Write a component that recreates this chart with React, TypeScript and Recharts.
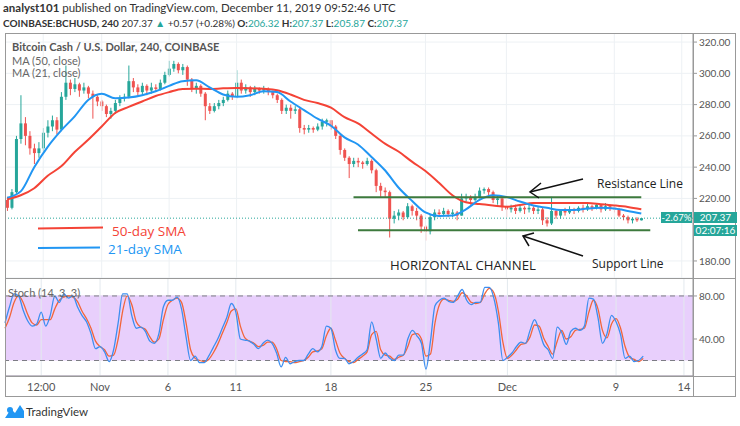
import React from 'react';
import {
  ComposedChart, Bar, Line, XAxis, YAxis, CartesianGrid,
  ReferenceLine, ReferenceArea,
} from 'recharts';

// 8h candles starting Oct 25 00:00 (open of first candle = FIRST_OPEN, then previous close)
const FIRST_OPEN = 219;
const CLOSES = [
  214, 224, 258, 268, 260, 252, 249, 252, 262, 266,
  270, 264, 285, 294, 290, 293, 289, 291, 287, 285,
  282, 279, 274, 276, 281, 284, 285, 295, 291, 288,
  292, 289, 291, 290, 294, 299, 303, 306, 302, 304,
  296, 290, 292, 287, 279, 276, 279, 281, 283, 287,
  285, 294, 289, 291, 288, 290, 289, 290, 288, 286,
  283, 276, 278, 276, 277, 265, 264, 265, 264, 266,
  269, 270, 266, 260, 251, 246, 242, 244, 243, 242,
  244, 238, 228, 225, 224, 207, 209, 211, 208, 215,
  212, 209, 202, 199, 208, 211, 210, 212, 210, 211,
  209, 220, 221, 219, 221, 225, 226, 224, 219, 220,
  215, 213, 214, 212, 214, 213, 214, 212, 213, 206,
  204, 212, 209, 212, 211, 213, 212, 214, 213, 215,
  214, 216, 213, 215, 214, 213, 209, 208, 206, 207,
  206, 207.37,
];
const HIGHS = [
  221, 226, 260, 286, 272, 263, 255, 256, 265, 270,
  273, 272, 288, 305, 296, 297, 294, 294, 292, 289,
  286, 283, 280, 278, 283, 286, 287, 305, 297, 293,
  294, 293, 294, 293, 296, 301, 308, 308, 307, 306,
  305, 297, 294, 293, 288, 281, 281, 283, 285, 289,
  288, 302, 296, 293, 292, 292, 291, 292, 291, 289,
  287, 284, 280, 280, 279, 278, 267, 267, 266, 268,
  271, 271, 270, 267, 261, 252, 247, 246, 246, 244,
  246, 245, 239, 230, 227, 225, 212, 213, 212, 217,
  216, 214, 210, 203, 210, 213, 213, 214, 213, 213,
  212, 223, 223, 222, 223, 227, 227, 227, 225, 222,
  221, 216, 216, 216, 216, 215, 216, 215, 215, 214,
  208, 221, 213, 213, 214, 215, 214, 215, 216, 217,
  216, 217, 216, 217, 216, 215, 214, 210, 209, 208,
  208, 207.4,
];
const LOWS = [
  212, 213, 223, 255, 254, 248, 242, 246, 250, 259,
  263, 261, 263, 283, 286, 288, 285, 287, 284, 271,
  279, 276, 272, 271, 274, 279, 282, 284, 288, 286,
  286, 286, 287, 288, 289, 293, 298, 301, 300, 299,
  292, 288, 287, 285, 270, 274, 275, 277, 279, 282,
  283, 284, 287, 287, 285, 286, 287, 287, 286, 284,
  281, 274, 274, 271, 274, 262, 261, 262, 262, 263,
  264, 266, 264, 258, 248, 244, 233, 240, 240, 239,
  241, 236, 224, 221, 221, 195, 204, 206, 206, 207,
  209, 206, 198, 193, 197, 206, 208, 209, 208, 208,
  206, 209, 218, 216, 218, 220, 223, 222, 217, 216,
  212, 208, 211, 210, 211, 210, 211, 210, 210, 203,
  202, 203, 207, 207, 209, 210, 210, 211, 211, 212,
  212, 213, 211, 212, 212, 211, 208, 206, 204, 204,
  205, 205.9,
];
// moving averages read once per day (every 3rd candle)
const MA50 = [
  219.5, 222, 226.5, 234.5, 240.5, 249.7, 257.5, 266, 274.6, 278.5,
  282, 285.5, 288, 290, 290.2, 290, 290.4, 290.6, 290.5, 290.1,
  289.2, 286.5, 283, 281, 278, 272, 268, 261.5, 255, 250,
  243.5, 237.5, 230, 222, 217.5, 216.4, 215.5, 214.7, 215.8, 217,
  217, 217, 217, 217, 216.3, 215.5, 214.5, 213,
];
const MA21 = [
  220.5, 224.5, 240, 253, 263.5, 272.5, 283, 287, 284, 284.5,
  286, 288.5, 292, 295, 295.5, 291, 286.5, 285, 286, 288.5,
  288, 282, 276.5, 271, 266.5, 259, 254.5, 246.5, 238, 227,
  218.5, 211, 208.7, 209, 213, 219, 222, 221, 218, 215.5,
  214, 212.6, 212.6, 213.5, 214, 213.5, 212, 210.3,
];
const STOCH_K = [
  55, 70, 82, 80, 67, 57, 52, 54, 65, 52,
  62, 80, 74, 82, 78, 80, 70, 62, 56, 45,
  31, 33, 28, 19, 30, 55, 82, 82, 62, 50,
  51, 47, 38, 36, 45, 70, 76, 76, 79, 68,
  42, 20, 24, 18, 18, 24, 32, 40, 50, 60,
  73, 65, 40, 39, 38, 35, 31, 36, 39, 36,
  27, 14, 23, 17, 19, 20, 20, 26, 31, 28,
  33, 52, 50, 30, 22, 22, 17, 19, 23, 26,
  30, 56, 40, 22, 27, 22, 20, 25, 25, 40,
  48, 43, 36, 12, 38, 71, 76, 78, 75, 74,
  80, 86, 76, 72, 74, 74, 88, 88, 78, 55,
  20, 23, 27, 33, 37, 36, 48, 58, 48, 35,
  30, 22, 51, 46, 35, 47, 50, 48, 52, 78,
  77, 60, 36, 45, 62, 56, 44, 22, 24, 19,
  20, 24,
];
const STOCH_D = [
  50, 60, 74, 80, 74, 63, 55, 53, 58, 58,
  58, 68, 76, 79, 80, 79, 75, 66, 59, 50,
  38, 33, 30, 24, 25, 40, 66, 80, 72, 56,
  51, 49, 42, 37, 40, 58, 72, 76, 78, 74,
  55, 30, 22, 20, 19, 21, 27, 35, 45, 55,
  66, 68, 52, 41, 38, 36, 33, 34, 37, 37,
  31, 20, 19, 19, 18, 19, 20, 23, 28, 29,
  31, 43, 50, 39, 27, 22, 19, 18, 21, 24,
  28, 44, 47, 30, 25, 24, 21, 23, 25, 33,
  44, 45, 40, 24, 26, 55, 72, 77, 76, 75,
  77, 83, 80, 74, 73, 74, 82, 87, 83, 66,
  37, 22, 25, 30, 35, 36, 42, 53, 52, 41,
  33, 26, 38, 48, 40, 42, 48, 49, 50, 65,
  76, 68, 48, 41, 54, 59, 50, 33, 23, 21,
  19, 22,
];
const TOTAL_SLOTS = 153; // data + empty space on the right
const TIME_TICKS = [8, 21, 36, 51, 72, 93, 111, 135, 150];
const TIME_LABELS = ['12:00', 'Nov', '6', '11', '18', '25', 'Dec', '9', '14'];
// 200.00 sits under the countdown label in the original, so it is left out
const PRICE_TICKS = [180, 220, 240, 260, 280, 300, 320];
const LAST_PRICE = 207.37;
const RESISTANCE = 220.8;
const SUPPORT = 199.6;

const UP = '#26a69a';
const DOWN = '#ef5350';
const TEAL = '#26a69a';
const FONT = 'Lato, "Open Sans", sans-serif';

const rows = Array.from({ length: TOTAL_SLOTS }, (_, i) => {
  const has = i < CLOSES.length;
  return {
    t: i,
    open: has ? (i === 0 ? FIRST_OPEN : CLOSES[i - 1]) : null,
    close: has ? CLOSES[i] : null,
    high: has ? HIGHS[i] : null,
    low: has ? LOWS[i] : null,
    ma50: has && i % 3 === 0 ? MA50[i / 3] : null,
    ma21: has && i % 3 === 0 ? MA21[i / 3] : null,
    k: has ? STOCH_K[i] : null,
    d: has ? STOCH_D[i] : null,
  };
});

const Candle = (props: any) => {
  const { x, y, width, height, payload } = props;
  if (!payload || payload.close == null) return null;
  const { open, close, high, low } = payload;
  const top = Math.min(y, y + height);
  const h = Math.abs(height);
  const k = high === low ? 0 : h / (high - low);
  const cx = x + width / 2;
  const bTop = top + (high - Math.max(open, close)) * k;
  const bH = Math.max(1, Math.abs(open - close) * k);
  const color = close >= open ? UP : DOWN;
  return (
    <g>
      <line x1={cx} x2={cx} y1={top} y2={top + h} stroke={color} strokeWidth={1} />
      <rect x={cx - 1.5} y={bTop} width={3} height={bH} fill={color} />
    </g>
  );
};

const gridLines = (stroke: string) =>
  TIME_TICKS.map((t) => (
    <ReferenceLine key={`vg-${t}`} x={t} stroke={stroke} strokeWidth={1} />
  ));

const axisTick = { fontSize: 10, fill: '#555', fontFamily: FONT };

const App: React.FC = () => {
  return (
    <div style={{ position: 'absolute', left: 0, top: 0, width: 740, height: 426, background: '#fff', overflow: 'hidden' }}>
      {/* price pane */}
      <div style={{ position: 'absolute', left: 0, top: 33 }}>
        <ComposedChart width={740} height={245} data={rows} margin={{ top: 0, right: 0, bottom: 0, left: 5 }}>
          <CartesianGrid vertical={false} stroke="#edf1f4" />
          {gridLines('#edf1f4')}
          <XAxis dataKey="t" type="category" hide />
          <YAxis
            orientation="right"
            width={47}
            domain={[169.1, 325.8]}
            ticks={PRICE_TICKS}
            allowDataOverflow
            tickFormatter={(v: number) => v.toFixed(2)}
            tick={axisTick}
            tickSize={4}
            tickMargin={2}
            axisLine={{ stroke: '#999' }}
            tickLine={{ stroke: '#999' }}
          />
          <ReferenceLine y={LAST_PRICE} stroke={TEAL} strokeDasharray="1 2" />
          <Bar
            dataKey={(d: any) => (d.close == null ? null : [d.low, d.high])}
            shape={<Candle />}
            isAnimationActive={false}
          />
          <Line dataKey="ma50" type="monotone" stroke="#f44336" strokeWidth={2} dot={false} connectNulls isAnimationActive={false} />
          <Line dataKey="ma21" type="monotone" stroke="#2196f3" strokeWidth={2} dot={false} connectNulls isAnimationActive={false} />
          <ReferenceLine segment={[{ x: 77, y: RESISTANCE }, { x: 141, y: RESISTANCE }]} stroke="#3d7a3d" strokeWidth={2} />
          <ReferenceLine segment={[{ x: 78, y: SUPPORT }, { x: 143, y: SUPPORT }]} stroke="#3d7a3d" strokeWidth={2} />
        </ComposedChart>
      </div>

      {/* stochastic pane */}
      <div style={{ position: 'absolute', left: 0, top: 278 }}>
        <ComposedChart width={740} height={119} data={rows} margin={{ top: 0, right: 0, bottom: 0, left: 5 }}>
          <ReferenceArea y1={20} y2={80} fill="#e8cffc" fillOpacity={1} stroke="none" />
          <CartesianGrid vertical={false} stroke="#dcc6f0" />
          {gridLines('#e3e9ee')}
          <XAxis
            dataKey="t"
            type="category"
            height={21}
            ticks={TIME_TICKS}
            interval={0}
            tickFormatter={(v: number) => TIME_LABELS[TIME_TICKS.indexOf(v)] ?? ''}
            tick={{ fontSize: 11, fill: '#555', fontFamily: FONT }}
            tickLine={false}
            tickSize={4}
            tickMargin={3}
            axisLine={{ stroke: '#999' }}
          />
          <YAxis
            orientation="right"
            width={47}
            domain={[5.6, 96.7]}
            ticks={[40, 80]}
            allowDataOverflow
            tickFormatter={(v: number) => v.toFixed(2)}
            tick={axisTick}
            tickSize={4}
            tickMargin={2}
            axisLine={{ stroke: '#999' }}
            tickLine={{ stroke: '#999' }}
          />
          <ReferenceLine y={80} stroke="#7d7d85" strokeDasharray="5 4" />
          <ReferenceLine y={20} stroke="#7d7d85" strokeDasharray="5 4" />
          <Line dataKey="d" type="monotone" stroke="#f2653a" strokeWidth={1.3} dot={false} isAnimationActive={false} />
          <Line dataKey="k" type="monotone" stroke="#3d8ef0" strokeWidth={1.3} dot={false} isAnimationActive={false} />
        </ComposedChart>
      </div>

      {/* frame, texts and annotations */}
      <svg width={740} height={426} style={{ position: 'absolute', left: 0, top: 0, pointerEvents: 'none' }}>
        <rect x={5.5} y={33.5} width={730} height={363} fill="none" stroke="#999" />
        <line x1={5} x2={736} y1={278.5} y2={278.5} stroke="#999" />
        <line x1={5} x2={736} y1={376.5} y2={376.5} stroke="#999" />
        <line x1={693.5} x2={693.5} y1={33} y2={397} stroke="#999" />

        <g fontFamily={FONT} fill="#333">
          <text x={3} y={12} fontSize={11.5}>
            <tspan fontWeight={700}>analyst101</tspan> published on TradingView.com, December 11, 2019 09:52:46 UTC
          </text>
          <text x={3} y={27} fontSize={10}>
            <tspan fontWeight={700}>COINBASE:BCHUSD, 240</tspan> 207.37 <tspan fill={TEAL}>▲</tspan> +0.57 (+0.28%)
            <tspan fontWeight={700}> O:</tspan><tspan fill={TEAL}>206.32</tspan>
            <tspan fontWeight={700}> H:</tspan><tspan fill={TEAL}>207.37</tspan>
            <tspan fontWeight={700}> L:</tspan><tspan fill={TEAL}>205.87</tspan>
            <tspan fontWeight={700}> C:</tspan><tspan fill={TEAL}>207.37</tspan>
          </text>
        </g>

        <g fontFamily={FONT} fontSize={11} fill="#666">
          <text x={12} y={51} fontWeight={700} fill="#555">Bitcoin Cash / U.S. Dollar, 240, COINBASE</text>
          <text x={12} y={65}>MA (50, close)</text>
          <text x={12} y={77}>MA (21, close)</text>
          <text x={8} y={297}>Stoch (14, 3, 3)</text>
        </g>

        <line x1={38} y1={228.5} x2={103} y2={227.5} stroke="#f44336" strokeWidth={2} />
        <line x1={38} y1={248} x2={100} y2={247.5} stroke="#2196f3" strokeWidth={2} />
        <g fontFamily='"Open Sans", sans-serif' fontSize={13.5}>
          <text x={112} y={236} fill="#f44336">50-day SMA</text>
          <text x={108} y={254} fill="#2196f3">21-day SMA</text>
        </g>

        <g stroke="#111" strokeWidth={1.5} fill="none">
          <line x1={583} y1={179} x2={530} y2={192} />
          <polyline points="541,183 530,192 539,198" />
          <line x1={583} y1={256} x2={523} y2={236} />
          <polyline points="534,233 523,236 529,246" />
        </g>
        <g fontFamily='"Open Sans", sans-serif' fill="#222">
          <text x={597} y={188} fontSize={12}>Resistance Line</text>
          <text x={592} y={268} fontSize={12}>Support Line</text>
          <text x={390} y={270} fontSize={13.2}>HORIZONTAL CHANNEL</text>
        </g>

        {/* TradingView mark */}
        <path d="M5 418 L11 409 L15 413 L20 405 L24 411 L24 418 Z" fill="#2196f3" />
        <circle cx={10} cy={410} r={3} fill="#2196f3" />
        <text x={26} y={416} fontFamily={FONT} fontSize={11.5} fill="#333">TradingView</text>
      </svg>

      {/* last price labels */}
      <div style={{ position: 'absolute', left: 661, top: 212, width: 31, height: 11, background: TEAL, color: '#fff', fontFamily: FONT, fontSize: 9.5, lineHeight: '11px', textAlign: 'center' }}>-2.67%</div>
      <div style={{ position: 'absolute', left: 694, top: 212, width: 43, height: 11, background: TEAL, color: '#fff', fontFamily: FONT, fontSize: 10, lineHeight: '11px', textAlign: 'center' }}>207.37</div>
      <div style={{ position: 'absolute', left: 694, top: 225, width: 43, height: 11, background: TEAL, color: '#fff', fontFamily: FONT, fontSize: 10, lineHeight: '11px', textAlign: 'center' }}>02:07:16</div>
    </div>
  );
};

export default App;
